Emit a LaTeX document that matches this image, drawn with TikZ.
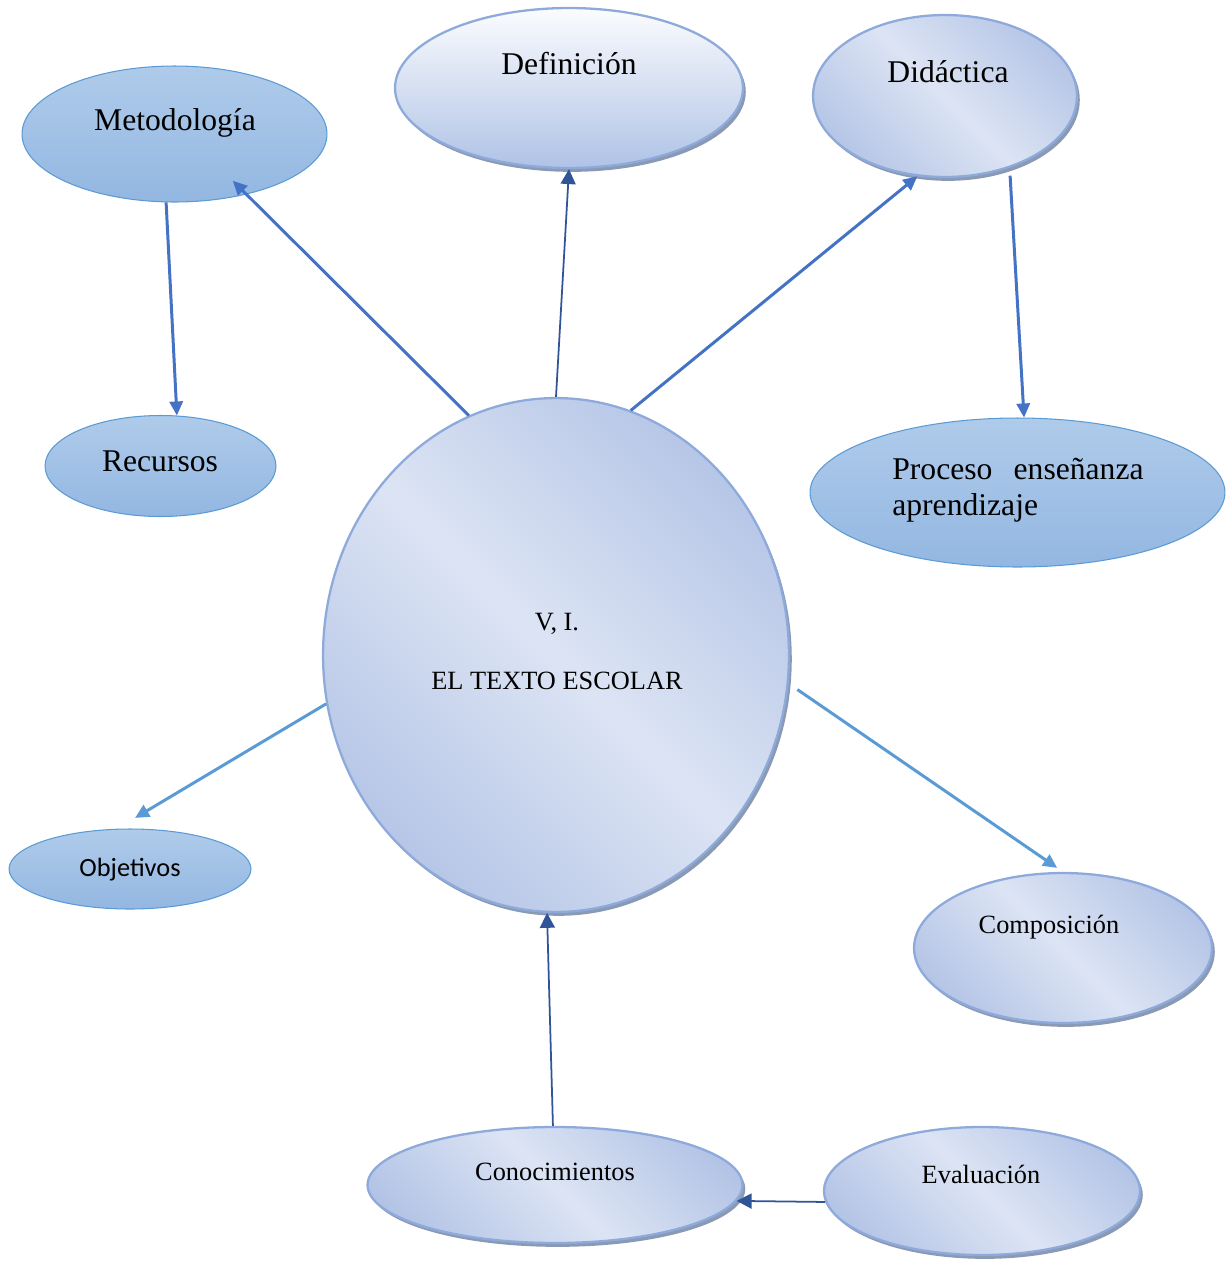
\documentclass[tikz,border=0pt]{standalone}
\usepackage{fontspec}
\setmainfont{Liberation Serif}
\newfontfamily\calibrifont{Carlito}
\usepackage{tikz}
\usetikzlibrary{shapes.geometric,shadows,arrows.meta}

\definecolor{flattop}{HTML}{AFCBEA}
\definecolor{flatbot}{HTML}{93B7E2}
\definecolor{flatline}{HTML}{5B9BD5}
\definecolor{softlight}{HTML}{DCE4F4}
\definecolor{softdark}{HTML}{9DB2DE}
\definecolor{softline}{HTML}{8EAADB}
\definecolor{shadowgray}{HTML}{8A99B4}
\definecolor{deftop}{HTML}{FBFCFE}
\definecolor{defbot}{HTML}{AFC3E6}
\definecolor{arrowblue}{HTML}{4472C4}
\definecolor{arrowlight}{HTML}{5B9BD5}
\definecolor{arrowdark}{HTML}{2F5597}

\pgfdeclareverticalshading{softdiag}{100bp}{color(0bp)=(softdark); color(8bp)=(softdark); color(50bp)=(softlight); color(92bp)=(softdark); color(100bp)=(softdark)}

\begin{document}
\begin{tikzpicture}[x=0.02cm, y=-0.02cm,
		flatell/.style={ellipse, draw=flatline, line width=0.6pt, top color=flattop, bottom color=flatbot, inner sep=0pt},
		softell/.style={ellipse, draw=softline, line width=1.3pt, shading=softdiag, shading angle=-45, inner sep=0pt,
			drop shadow={shadow xshift=1.6pt, shadow yshift=-2.2pt, fill=shadowgray, opacity=1}},
		paleell/.style={ellipse, draw=softline, line width=1.3pt, top color=deftop, bottom color=defbot, inner sep=0pt,
			drop shadow={shadow xshift=1.6pt, shadow yshift=-2.2pt, fill=shadowgray, opacity=1}},
		labbig/.style={font=\fontsize{18}{21}\selectfont, anchor=base, inner sep=0pt},
		labsmall/.style={font=\fontsize{15}{18}\selectfont, anchor=base, inner sep=0pt},
		linkblue/.style={-{Triangle[length=8pt,width=7.5pt]}, line width=1.7pt, draw=arrowblue},
		linklight/.style={-{Triangle[length=8pt,width=7.5pt]}, line width=1.7pt, draw=arrowlight},
		linkdark/.style={-{Triangle[length=8.5pt,width=8.5pt]}, line width=1pt, draw=arrowdark}]

		\useasboundingbox (0,0) rectangle (1229,1262);

		% ellipses
		\draw (174.5,134) node[flatell, minimum width=6.1cm, minimum height=2.72cm] (met) {};
		\draw (569,88)    node[paleell, minimum width=6.96cm, minimum height=3.2cm] (def) {};
		\draw (945,96)    node[softell, minimum width=5.28cm, minimum height=3.24cm] (did) {};
		\draw (160.5,466) node[flatell, minimum width=4.62cm, minimum height=2.02cm] (rec) {};
		\draw (1017.5,492.5) node[flatell, minimum width=8.3cm, minimum height=2.98cm] (pro) {};
		\draw (556,655)   node[softell, minimum width=9.32cm, minimum height=10.28cm] (cen) {};
		\draw (130,869)   node[flatell, minimum width=4.84cm, minimum height=1.6cm] (obj) {};
		\draw (1063,948)  node[softell, minimum width=5.96cm, minimum height=3cm] (com) {};
		\draw (555,1185)  node[softell, minimum width=7.5cm, minimum height=2.32cm] (con) {};
		\draw (982,1191)  node[softell, minimum width=6.32cm, minimum height=2.56cm] (eva) {};

		% texts
		\draw (175,130)  node[labbig] (metT) {Metodología};
		\draw (569,74)   node[labbig] (defT) {Definición};
		\draw (948,82)   node[labbig] (didT) {Didáctica};
		\draw (160,471)  node[labbig] (recT) {Recursos};
		\draw (892,479)  node[labbig, anchor=base west] (proA) {\makebox[143pt][l]{Proceso\hfill enseñanza}};
		\draw (892,515)  node[labbig, anchor=base west] (proB) {aprendizaje};
		\draw (557,630)  node[labsmall] (cenA) {V, I.};
		\draw (557,689)  node[labsmall] (cenB) {EL TEXTO ESCOLAR};
		\draw (130,876)  node[labsmall, font=\calibrifont\fontsize{15}{18}\selectfont] (objT) {Objetivos};
		\draw (1049,933) node[labsmall] (comT) {Composición};
		\draw (555,1180) node[labsmall] (conT) {Conocimientos};
		\draw (981,1183) node[labsmall] (evaT) {Evaluación};

		% arrows
		\draw[linkblue, shorten >=-11pt] (cen.110) -- (met.320);
		\draw[linkdark] (cen.north) -- (def.south);
		\draw[linkblue] (cen.73) -- (did.251);
		\draw[linkblue] (met.263) -- (rec.72);
		\draw[linkblue, shorten <=4.5pt] (did.312) -- (pro.85);
		\draw[linklight, shorten >=12pt] (cen.192) -- (obj.108);
		\draw[linklight, shorten <=6pt, shorten >=4pt] (cen.353) -- (com.north);
		\draw[linkdark] (con.92) -- (cen.268);
		\draw[linkdark] (eva.184) -- (con.355);

	\end{tikzpicture}
\end{document}
